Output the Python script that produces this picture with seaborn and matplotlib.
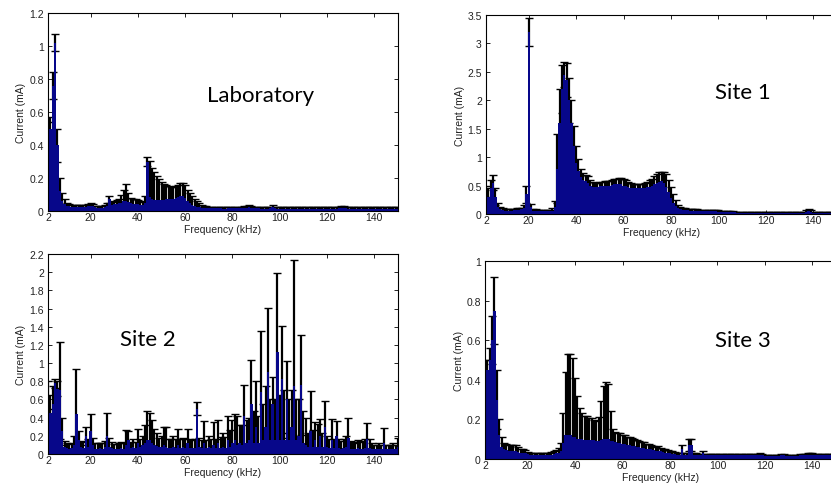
import numpy as np
import matplotlib
matplotlib.use("Agg")
import matplotlib.pyplot as plt
from matplotlib.ticker import FuncFormatter
import seaborn as sns

# frequency bins (kHz), one per kHz from 2 to 150
freq = np.arange(2, 151)

# Laboratory: mean current (mA) and spread
lab_mean = [0.26, 0.50, 0.76, 1.02, 0.40, 0.12, 0.06, 0.04, 0.030, 0.028,
            0.026, 0.025, 0.025, 0.024, 0.024, 0.025, 0.026, 0.028, 0.032, 0.030,
            0.022, 0.020, 0.020, 0.021, 0.025, 0.030, 0.070, 0.035, 0.040, 0.045,
            0.048, 0.050, 0.058, 0.062, 0.052, 0.046, 0.045, 0.042, 0.040, 0.036,
            0.035, 0.050, 0.300, 0.085, 0.072, 0.066, 0.064, 0.064, 0.066, 0.068,
            0.070, 0.071, 0.073, 0.075, 0.078, 0.082, 0.088, 0.090, 0.080, 0.060,
            0.048, 0.038, 0.032, 0.027, 0.023, 0.020, 0.018, 0.017, 0.016, 0.016,
            0.016, 0.016, 0.016, 0.016, 0.015, 0.015, 0.016, 0.016, 0.016, 0.016,
            0.016, 0.017, 0.017, 0.018, 0.020, 0.024, 0.020, 0.017, 0.016, 0.016,
            0.015, 0.015, 0.015, 0.015, 0.016, 0.022, 0.016, 0.015, 0.015, 0.015,
            0.014, 0.014, 0.015, 0.014, 0.014, 0.014, 0.015, 0.014, 0.014, 0.014,
            0.014, 0.014, 0.014, 0.015, 0.014, 0.014, 0.014, 0.014, 0.014, 0.014,
            0.014, 0.014, 0.015, 0.016, 0.018, 0.018, 0.016, 0.015, 0.014, 0.014,
            0.014, 0.014, 0.014, 0.014, 0.015, 0.014, 0.014, 0.014, 0.014, 0.014,
            0.014, 0.014, 0.014, 0.014, 0.014, 0.014, 0.014, 0.014, 0.014]
lab_err = [0.28, 0.07, 0.08, 0.05, 0.10, 0.08, 0.05, 0.03, 0.020, 0.015,
           0.012, 0.012, 0.011, 0.011, 0.011, 0.012, 0.013, 0.015, 0.016, 0.014,
           0.010, 0.009, 0.009, 0.010, 0.012, 0.018, 0.022, 0.020, 0.018, 0.020,
           0.025, 0.045, 0.070, 0.100, 0.060, 0.035, 0.030, 0.028, 0.028, 0.026,
           0.022, 0.040, 0.030, 0.220, 0.190, 0.170, 0.150, 0.130, 0.110, 0.095,
           0.085, 0.078, 0.072, 0.072, 0.075, 0.078, 0.080, 0.080, 0.075, 0.070,
           0.060, 0.050, 0.040, 0.032, 0.025, 0.018, 0.014, 0.012, 0.011, 0.011,
           0.010, 0.010, 0.010, 0.010, 0.010, 0.010, 0.010, 0.010, 0.010, 0.010,
           0.010, 0.010, 0.010, 0.011, 0.012, 0.014, 0.012, 0.010, 0.010, 0.010,
           0.010, 0.010, 0.010, 0.010, 0.010, 0.014, 0.010, 0.010, 0.010, 0.010,
           0.010, 0.010, 0.010, 0.010, 0.010, 0.010, 0.010, 0.010, 0.010, 0.010,
           0.010, 0.010, 0.010, 0.010, 0.010, 0.010, 0.010, 0.010, 0.010, 0.010,
           0.010, 0.010, 0.010, 0.011, 0.012, 0.012, 0.011, 0.010, 0.010, 0.010,
           0.010, 0.010, 0.010, 0.010, 0.010, 0.010, 0.010, 0.010, 0.010, 0.010,
           0.010, 0.010, 0.010, 0.010, 0.010, 0.010, 0.010, 0.010, 0.010]

# Site 1
s1_mean = [0.32, 0.30, 0.45, 0.55, 0.30, 0.12, 0.08, 0.07, 0.06, 0.06,
           0.06, 0.06, 0.065, 0.07, 0.07, 0.08, 0.10, 0.35, 3.20, 0.12,
           0.06, 0.05, 0.05, 0.05, 0.05, 0.05, 0.05, 0.05, 0.06, 0.12,
           0.80, 1.60, 2.20, 2.45, 2.35, 2.00, 1.60, 1.20, 0.90, 0.75,
           0.65, 0.60, 0.58, 0.55, 0.50, 0.48, 0.47, 0.48, 0.49, 0.50,
           0.50, 0.50, 0.50, 0.51, 0.52, 0.52, 0.52, 0.52, 0.50, 0.49,
           0.47, 0.46, 0.45, 0.45, 0.45, 0.45, 0.45, 0.46, 0.47, 0.48,
           0.50, 0.52, 0.55, 0.57, 0.58, 0.55, 0.48, 0.38, 0.28, 0.20,
           0.14, 0.10, 0.08, 0.075, 0.07, 0.065, 0.06, 0.06, 0.058, 0.056,
           0.055, 0.054, 0.052, 0.050, 0.048, 0.046, 0.045, 0.044, 0.042, 0.040,
           0.038, 0.036, 0.034, 0.032, 0.030, 0.028, 0.026, 0.024, 0.022, 0.020,
           0.020, 0.020, 0.020, 0.020, 0.020, 0.020, 0.020, 0.020, 0.020, 0.020,
           0.020, 0.020, 0.020, 0.020, 0.020, 0.020, 0.020, 0.020, 0.020, 0.020,
           0.020, 0.020, 0.020, 0.020, 0.025, 0.040, 0.050, 0.040, 0.025, 0.020,
           0.020, 0.020, 0.020, 0.020, 0.020, 0.020, 0.020, 0.020, 0.020]
s1_err = [0.18, 0.15, 0.15, 0.13, 0.15, 0.08, 0.04, 0.03, 0.03, 0.03,
          0.03, 0.03, 0.03, 0.03, 0.03, 0.03, 0.05, 0.15, 0.25, 0.05,
          0.03, 0.03, 0.02, 0.02, 0.02, 0.02, 0.02, 0.02, 0.04, 0.10,
          0.60, 0.60, 0.42, 0.22, 0.30, 0.40, 0.40, 0.35, 0.30, 0.22,
          0.15, 0.12, 0.10, 0.12, 0.10, 0.08, 0.07, 0.07, 0.07, 0.07,
          0.08, 0.08, 0.08, 0.09, 0.10, 0.10, 0.11, 0.12, 0.11, 0.10,
          0.09, 0.08, 0.08, 0.08, 0.08, 0.08, 0.08, 0.09, 0.10, 0.11,
          0.12, 0.14, 0.16, 0.17, 0.16, 0.18, 0.22, 0.22, 0.20, 0.15,
          0.10, 0.06, 0.04, 0.03, 0.03, 0.03, 0.03, 0.025, 0.025, 0.025,
          0.02, 0.02, 0.02, 0.02, 0.02, 0.02, 0.02, 0.02, 0.02, 0.02,
          0.02, 0.02, 0.015, 0.015, 0.015, 0.015, 0.015, 0.015, 0.012, 0.012,
          0.012, 0.012, 0.012, 0.012, 0.012, 0.012, 0.012, 0.012, 0.012, 0.012,
          0.012, 0.012, 0.012, 0.012, 0.012, 0.012, 0.012, 0.012, 0.012, 0.012,
          0.012, 0.012, 0.012, 0.012, 0.015, 0.030, 0.030, 0.030, 0.015, 0.012,
          0.012, 0.012, 0.012, 0.012, 0.012, 0.012, 0.012, 0.012, 0.012]

# Site 2
s2_mean = [0.65, 0.45, 0.55, 0.78, 0.72, 0.70, 0.25, 0.08, 0.07, 0.06,
           0.07, 0.10, 0.44, 0.15, 0.08, 0.07, 0.20, 0.08, 0.25, 0.10,
           0.06, 0.06, 0.07, 0.06, 0.08, 0.20, 0.08, 0.07, 0.06, 0.06,
           0.06, 0.07, 0.06, 0.10, 0.15, 0.07, 0.08, 0.07, 0.12, 0.08,
           0.10, 0.12, 0.15, 0.15, 0.12, 0.10, 0.09, 0.08, 0.08, 0.10,
           0.08, 0.07, 0.07, 0.08, 0.07, 0.10, 0.07, 0.08, 0.07, 0.12,
           0.07, 0.07, 0.07, 0.50, 0.08, 0.07, 0.12, 0.07, 0.08, 0.07,
           0.10, 0.07, 0.12, 0.07, 0.08, 0.07, 0.15, 0.08, 0.12, 0.15,
           0.10, 0.12, 0.10, 0.42, 0.12, 0.15, 0.55, 0.12, 0.30, 0.12,
           0.68, 0.15, 0.30, 0.90, 0.15, 0.55, 0.15, 1.12, 0.15, 0.82,
           0.15, 0.60, 0.15, 0.30, 0.75, 0.15, 0.20, 0.76, 0.12, 0.10,
           0.08, 0.25, 0.08, 0.15, 0.08, 0.20, 0.08, 0.30, 0.08, 0.07,
           0.15, 0.07, 0.20, 0.07, 0.06, 0.07, 0.08, 0.18, 0.06, 0.06,
           0.06, 0.07, 0.06, 0.06, 0.07, 0.16, 0.07, 0.06, 0.05, 0.05,
           0.06, 0.05, 0.12, 0.05, 0.05, 0.05, 0.06, 0.05, 0.08]
s2_err = [0.15, 0.20, 0.20, 0.05, 0.08, 0.53, 0.15, 0.06, 0.05, 0.05,
          0.05, 0.10, 0.49, 0.10, 0.06, 0.06, 0.10, 0.08, 0.19, 0.08,
          0.06, 0.06, 0.05, 0.06, 0.06, 0.25, 0.10, 0.06, 0.05, 0.05,
          0.06, 0.06, 0.06, 0.16, 0.10, 0.06, 0.08, 0.06, 0.15, 0.08,
          0.10, 0.20, 0.32, 0.30, 0.25, 0.18, 0.14, 0.10, 0.12, 0.20,
          0.22, 0.10, 0.10, 0.12, 0.10, 0.18, 0.09, 0.10, 0.10, 0.15,
          0.10, 0.08, 0.10, 0.07, 0.10, 0.08, 0.24, 0.08, 0.12, 0.10,
          0.25, 0.10, 0.25, 0.12, 0.15, 0.12, 0.27, 0.18, 0.25, 0.29,
          0.32, 0.20, 0.22, 0.34, 0.25, 0.25, 0.48, 0.35, 0.50, 0.30,
          0.67, 0.40, 0.45, 0.71, 0.45, 0.30, 0.45, 0.87, 0.50, 0.59,
          0.55, 0.42, 0.45, 0.40, 1.38, 0.45, 0.40, 0.55, 0.35, 0.30,
          0.15, 0.44, 0.18, 0.20, 0.25, 0.18, 0.15, 0.28, 0.12, 0.10,
          0.23, 0.10, 0.16, 0.10, 0.08, 0.10, 0.12, 0.22, 0.08, 0.07,
          0.06, 0.08, 0.08, 0.07, 0.10, 0.18, 0.10, 0.06, 0.05, 0.05,
          0.06, 0.05, 0.17, 0.05, 0.05, 0.05, 0.06, 0.05, 0.10]

# Site 3
s3_mean = [0.37, 0.45, 0.50, 0.60, 0.75, 0.30, 0.12, 0.06, 0.05, 0.045,
           0.040, 0.040, 0.040, 0.040, 0.035, 0.030, 0.030, 0.028, 0.025, 0.022,
           0.020, 0.020, 0.020, 0.020, 0.020, 0.020, 0.020, 0.020, 0.022, 0.025,
           0.028, 0.030, 0.040, 0.080, 0.120, 0.120, 0.120, 0.110, 0.110, 0.100,
           0.100, 0.100, 0.095, 0.095, 0.095, 0.095, 0.095, 0.090, 0.090, 0.095,
           0.100, 0.100, 0.100, 0.090, 0.090, 0.085, 0.080, 0.080, 0.078, 0.075,
           0.072, 0.070, 0.068, 0.065, 0.062, 0.060, 0.058, 0.055, 0.052, 0.050,
           0.048, 0.045, 0.042, 0.040, 0.038, 0.035, 0.032, 0.030, 0.028, 0.026,
           0.024, 0.022, 0.020, 0.050, 0.020, 0.020, 0.070, 0.070, 0.020, 0.020,
           0.018, 0.018, 0.030, 0.018, 0.018, 0.018, 0.018, 0.018, 0.018, 0.018,
           0.018, 0.018, 0.018, 0.018, 0.018, 0.018, 0.018, 0.018, 0.018, 0.018,
           0.018, 0.018, 0.018, 0.018, 0.018, 0.018, 0.022, 0.018, 0.016, 0.016,
           0.016, 0.016, 0.016, 0.016, 0.016, 0.018, 0.018, 0.016, 0.016, 0.016,
           0.016, 0.016, 0.016, 0.018, 0.018, 0.018, 0.020, 0.022, 0.022, 0.020,
           0.018, 0.018, 0.018, 0.018, 0.018, 0.018, 0.018, 0.018, 0.018]
s3_err = [0.13, 0.05, 0.06, 0.12, 0.17, 0.15, 0.08, 0.05, 0.03, 0.03,
          0.030, 0.030, 0.030, 0.030, 0.025, 0.020, 0.020, 0.015, 0.012, 0.010,
          0.008, 0.008, 0.008, 0.008, 0.008, 0.008, 0.009, 0.010, 0.012, 0.015,
          0.018, 0.025, 0.040, 0.150, 0.320, 0.410, 0.410, 0.400, 0.300, 0.220,
          0.160, 0.130, 0.120, 0.120, 0.110, 0.110, 0.100, 0.100, 0.120, 0.200,
          0.270, 0.290, 0.280, 0.150, 0.060, 0.050, 0.050, 0.050, 0.045, 0.045,
          0.040, 0.040, 0.040, 0.035, 0.035, 0.030, 0.030, 0.030, 0.025, 0.025,
          0.025, 0.020, 0.020, 0.025, 0.020, 0.018, 0.016, 0.015, 0.014, 0.012,
          0.010, 0.010, 0.010, 0.020, 0.010, 0.010, 0.030, 0.030, 0.010, 0.008,
          0.006, 0.006, 0.012, 0.006, 0.006, 0.006, 0.006, 0.006, 0.006, 0.006,
          0.006, 0.006, 0.006, 0.006, 0.006, 0.006, 0.006, 0.006, 0.006, 0.006,
          0.006, 0.006, 0.006, 0.006, 0.006, 0.006, 0.008, 0.006, 0.006, 0.006,
          0.006, 0.006, 0.006, 0.006, 0.006, 0.008, 0.008, 0.006, 0.006, 0.006,
          0.006, 0.006, 0.006, 0.006, 0.006, 0.008, 0.008, 0.008, 0.008, 0.006,
          0.006, 0.006, 0.006, 0.006, 0.006, 0.006, 0.006, 0.006, 0.006]

panel_names = ["Laboratory", "Site 1", "Site 2", "Site 3"]
panel_ymax = [1.2, 3.5, 2.2, 1.0]
panel_ystep = [0.2, 0.5, 0.2, 0.2]
xtick_vals = [2, 20, 40, 60, 80, 100, 120, 140]

sns.set_theme(style="ticks")
plt.rcParams['font.family'] = ['Liberation Sans', 'DejaVu Sans']
plt.rcParams['xtick.direction'] = 'in'
plt.rcParams['ytick.direction'] = 'in'

fig = plt.figure(figsize=(8.31, 4.85), dpi=100)
W, H = 831, 485
# axes boxes in pixels: left, top, width, height
boxes = [(48, 14, 350, 198), (486, 16, 351, 199), (48, 255, 350, 200), (485, 262, 351, 198)]
# label anchors (left, baseline) in pixels
text_pos = [(207, 102), (715, 99), (120, 346), (715, 347)]

data = [(lab_mean, lab_err), (s1_mean, s1_err), (s2_mean, s2_err), (s3_mean, s3_err)]

for i in range(4):
    l, t, w, h = boxes[i]
    ax = fig.add_axes([l / W, 1 - (t + h) / H, w / W, h / H])
    mean, err = data[i]
    ax.errorbar(freq, mean, yerr=err, fmt='none', ecolor='black',
                elinewidth=1.6, capsize=2.6, capthick=1.0, zorder=0.5)
    sns.barplot(x=freq, y=mean, native_scale=True, width=1.0, color='#07078a',
                saturation=1, errorbar=None, linewidth=0, ax=ax, zorder=1)
    ax.set_xlim(2, 150)
    ax.set_ylim(0, panel_ymax[i])
    ax.set_xticks(xtick_vals)
    ax.set_yticks(np.arange(0, panel_ymax[i] + 1e-9, panel_ystep[i]))
    ax.yaxis.set_major_formatter(FuncFormatter(lambda v, _: f"{v:g}"))
    ax.tick_params(axis='both', labelsize=7.5, length=3, width=0.6,
                   top=True, right=True, color='black', labelcolor='#222222')
    ax.tick_params(axis='x', pad=1)
    ax.tick_params(axis='y', pad=3)
    ax.set_xlabel("Frequency (kHz)", fontsize=7.5, labelpad=1, color='#222222')
    ax.set_ylabel("Current (mA)", fontsize=7.5, labelpad=2, color='#222222')
    for sp in ax.spines.values():
        sp.set_color('black')
        sp.set_linewidth(0.8)
    tx, ty = text_pos[i]
    fig.text(tx / W, 1 - ty / H, panel_names[i], fontsize=16, family=['Lato', 'DejaVu Sans'],
             ha='left', va='baseline', color='black')

fig.savefig("out.png", dpi=100)
